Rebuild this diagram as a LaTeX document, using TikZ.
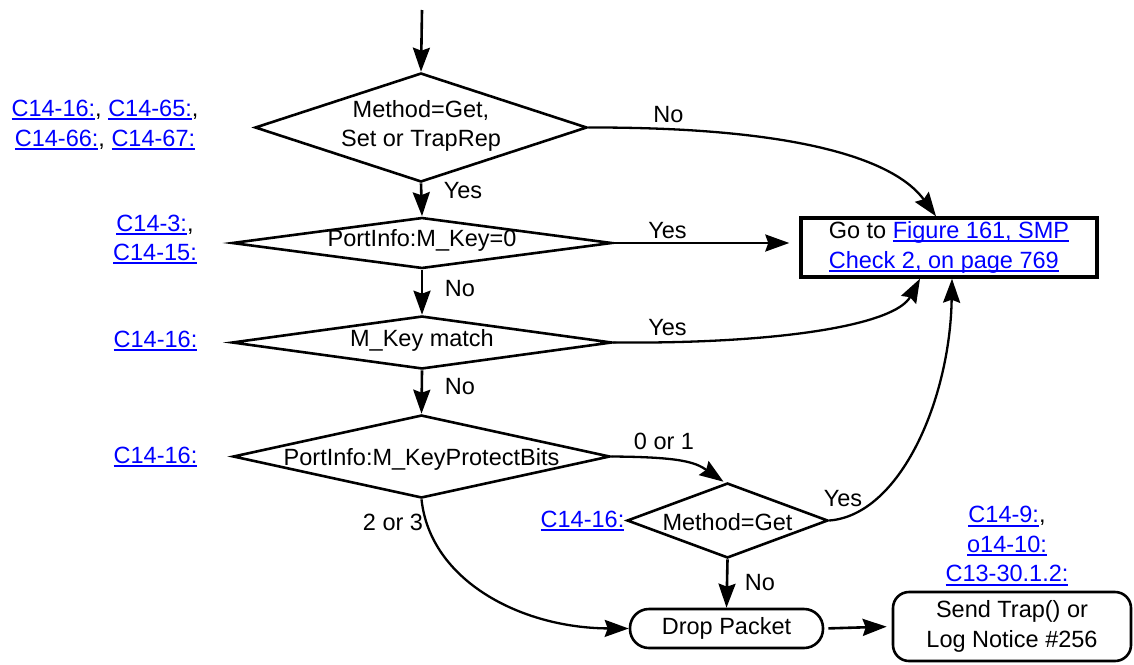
\documentclass[tikz,border=0pt]{standalone}
\usepackage{fontspec}
\setmainfont{Liberation Sans}
\usepackage{xcolor}
\usepackage{tikz}
\usetikzlibrary{arrows.meta,positioning,shapes.geometric}
\definecolor{LinkBlue}{HTML}{0000FF}
\newcommand{\lnk}[1]{\leavevmode{\color{LinkBlue}\setbox0=\hbox{#1}\rlap{\rule[-3.6pt]{\wd0}{2pt}}\box0}}

\begin{document}
\begin{tikzpicture}[x=1pt,y=-1pt,
  font=\fontsize{23.5pt}{29.5pt}\selectfont,
  dia/.style={draw,diamond,line width=2.6pt,inner sep=0pt},
  txt/.style={inner sep=0pt,text height=17pt,text depth=5pt},
  multi/.style={inner sep=0pt,align=center},
  term/.style={draw,line width=2.6pt,inner sep=0pt,align=center},
  gobox/.style={draw,line width=3.4pt,inner sep=0pt,align=left,
                minimum width=296pt,minimum height=59pt},
  fl/.style={-{Stealth[length=24pt,width=17pt,inset=3pt]},line width=2.6pt},
  cv/.style={fl,line width=2.3pt}
]
\useasboundingbox (0,0) rectangle (1134,664);
% decisions
\node[dia,minimum width=332pt,minimum height=109pt] (d1) at (421,127.5) {};
\node[multi] (t1) at (421,126) {Method=Get,\\Set or TrapRep};
\node[dia,minimum width=380pt,minimum height=51pt] (d2) at (422,243) {};
\node[txt] (t2) at (422,240) {PortInfo:M\_Key=0};
\node[dia,minimum width=380pt,minimum height=53pt] (d3) at (422,342.5) {};
\node[txt] (t3) at (422,340) {M\_Key match};
\node[dia,minimum width=377pt,minimum height=83pt] (d4) at (421.5,456.5) {};
\node[txt] (t4) at (421.5,459) {PortInfo:M\_KeyProtectBits};
\node[dia,minimum width=201pt,minimum height=75pt] (d5) at (727.5,520.5) {};
\node[txt] (t5) at (727.5,524) {Method=Get};
% end points
\node[gobox] (go) at (949,247.5) {Go to \lnk{Figure 161, SMP}\\\lnk{Check 2, on page 769}};
\node[term,rounded corners=19pt,minimum width=193pt,minimum height=39pt,
      text height=17pt,text depth=5pt] (drop) at (726.5,628.5) {Drop Packet};
\node[term,rounded corners=16pt,minimum width=238pt,minimum height=69pt] (trap)
      at (1012,626.5) {Send Trap() or\\Log Notice \#256};
% references
\node[multi] (r1) at (105,125) {\lnk{C14-16:}, \lnk{C14-65:},\\\lnk{C14-66:}, \lnk{C14-67:}};
\node[multi] (r2) at (155,239.6) {\lnk{C14-3:},\\\lnk{C14-15:}};
\node[txt] (r3) at (155.5,341) {\lnk{C14-16:}};
\node[txt] (r4) at (155.5,457.5) {\lnk{C14-16:}};
\node[txt] (r5) at (582.5,521.5) {\lnk{C14-16:}};
\node[multi] (r6) at (1007,546) {\lnk{C14-9:},\\\lnk{o14-10:}\\\lnk{C13-30.1.2:}};
% branch labels
\node[txt] (y1) at (463,192) {Yes};
\node[txt] (n2) at (460,290) {No};
\node[txt] (n3) at (460,388) {No};
\node[txt] (b23) at (393,524) {2 or 3};
\node[txt] (b01) at (664,443) {0 or 1};
\node[txt] (y5) at (843,500) {Yes};
\node[txt] (n5) at (760,584) {No};
\node[txt] (n1) at (668.5,116) {No};
\node[txt] (y2) at (667.5,232) {Yes};
\node[txt] (y3) at (667.5,329.5) {Yes};
% flow
\coordinate (in) at (422,10);
\draw[fl] (in) -- (d1.north);
\draw[fl] (d1.south) -- (d2.north);
\draw[fl] (d2.south) -- (d3.north);
\draw[fl] (d3.south) -- (d4.north);
\draw[fl] (d5.south) -- (drop.north);
\draw[fl,shorten <=4pt,shorten >=5pt] (drop.east) -- (trap.west);
\draw[fl,shorten >=10pt] (d2.east) -- (d2.east -| go.west);
\draw[cv] (d1.east) .. controls (800,127) and (895,160) .. ([xshift=-13pt]go.north);
\draw[cv] (d3.east) .. controls (780,344) and (895,325) .. ([xshift=-29pt]go.south);
\draw[cv] (d5.east) .. controls (900,515) and (950,400) .. ([xshift=3pt]go.south);
\draw[cv] (d4.east) .. controls (680,457) and (695,462) .. ([xshift=-4pt]d5.north);
\draw[cv] (d4.south) .. controls (430,580) and (520,628) .. (drop.west);
\end{tikzpicture}
\end{document}
